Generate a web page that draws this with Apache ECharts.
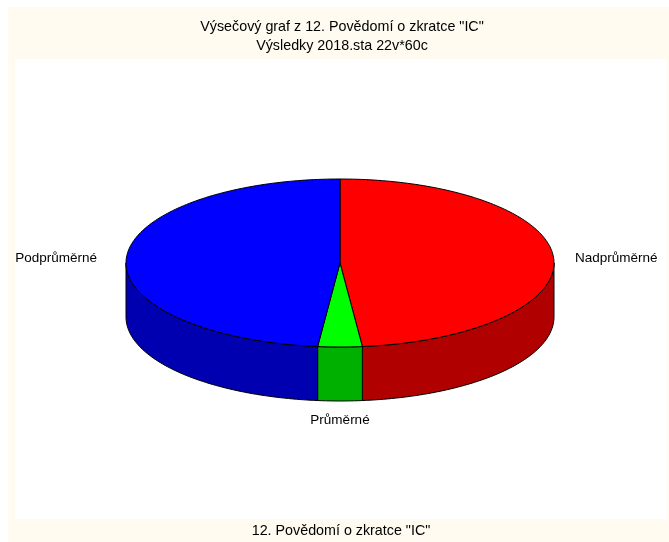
<!DOCTYPE html>
<html>
<head>
    <meta charset="utf-8">
    <script src="https://cdn.jsdelivr.net/npm/echarts@6/dist/echarts.min.js"></script>
    <style>
        html, body { margin: 0; padding: 0; background: #ffffff; }
        #chart { width: 669px; height: 542px; }
    </style>
</head>
<body>
<div id="chart"></div>
<script>
    // data
    var categories = ['Nadprůměrné', 'Průměrné', 'Podprůměrné'];
    var counts = [29, 2, 29];
    var topColors = ['#ff0000', '#00ff00', '#0000ff'];
    var sideColors = ['#b00000', '#00b000', '#0000b0'];

    var titleLines = ['Výsečový graf z 12. Povědomí o zkratce "IC"', 'Výsledky 2018.sta 22v*60c'];
    var footText = '12. Povědomí o zkratce "IC"';

    // pie geometry (tilted ellipse)
    var cx = 340, cy = 263, rx = 214, ry = 84, depth = 54;
    var fontFamily = '"Liberation Sans", Arial, sans-serif';
    var labelFont = '13.5px ' + fontFamily;
    var titleFont = '14.3px ' + fontFamily;

    var total = counts.reduce(function (a, b) { return a + b; }, 0);

    function pt(a, dy) {
        return [cx + rx * Math.sin(a), cy - ry * Math.cos(a) + (dy || 0)];
    }

    function arcPoints(a0, a1, dy) {
        var n = Math.max(4, Math.ceil((a1 - a0) / 0.02));
        var pts = [];
        for (var k = 0; k <= n; k++) {
            pts.push(pt(a0 + (a1 - a0) * k / n, dy));
        }
        return pts;
    }

    function textEl(str, x, y) {
        return {
            type: 'text', x: x, y: y, z: 5,
            style: { text: str, align: 'center', verticalAlign: 'middle', fill: '#000', font: titleFont }
        };
    }

    var chart = echarts.init(document.getElementById('chart'));

    var option = {
        animation: false,
        backgroundColor: '#ffffff',
        graphic: [
            { type: 'rect', z: -10, shape: { x: 8, y: 7, width: 661, height: 535 }, style: { fill: '#fffbf0' } },
            { type: 'rect', z: -9, shape: { x: 15, y: 59, width: 652, height: 460 }, style: { fill: '#ffffff' } },
            textEl(titleLines[0], 342, 27),
            textEl(titleLines[1], 342, 46),
            textEl(footText, 341, 531)
        ],
        series: [{
            type: 'custom',
            coordinateSystem: 'none',
            silent: true,
            data: counts,
            renderItem: function (params, api) {
                var i = params.dataIndex;
                var start = 0;
                for (var j = 0; j < i; j++) start += counts[j];
                var a0 = start / total * Math.PI * 2;
                var a1 = (start + counts[i]) / total * Math.PI * 2;
                var children = [];

                // side wall, only the front half is seen
                var s0 = Math.max(a0, Math.PI / 2);
                var s1 = Math.min(a1, Math.PI * 3 / 2);
                if (s1 > s0) {
                    var side = arcPoints(s0, s1, 0).concat(arcPoints(s0, s1, depth).reverse());
                    children.push({
                        type: 'polygon',
                        shape: { points: side },
                        style: { fill: sideColors[i], stroke: '#000', lineWidth: 1 }
                    });
                }

                // top face
                var top = [[cx, cy]].concat(arcPoints(a0, a1, 0));
                children.push({
                    type: 'polygon',
                    z2: 10,
                    shape: { points: top },
                    style: { fill: topColors[i], stroke: '#000', lineWidth: 1 }
                });

                // label
                var mid = (a0 + a1) / 2;
                var sx = Math.sin(mid);
                var lx, ly, align;
                if (Math.abs(sx) < 0.3) {
                    lx = cx + rx * sx;
                    ly = cy + ry + depth + 19;
                    align = 'center';
                } else {
                    lx = sx > 0 ? cx + rx + 21 : cx - rx - 29;
                    ly = cy - ry * Math.cos(mid);
                    align = sx > 0 ? 'left' : 'right';
                }
                children.push({
                    type: 'text',
                    z2: 20,
                    style: { text: categories[i], x: lx, y: ly, align: align, verticalAlign: 'middle', fill: '#000', font: labelFont }
                });

                return { type: 'group', children: children };
            }
        }]
    };

    chart.setOption(option);
</script>
</body>
</html>
